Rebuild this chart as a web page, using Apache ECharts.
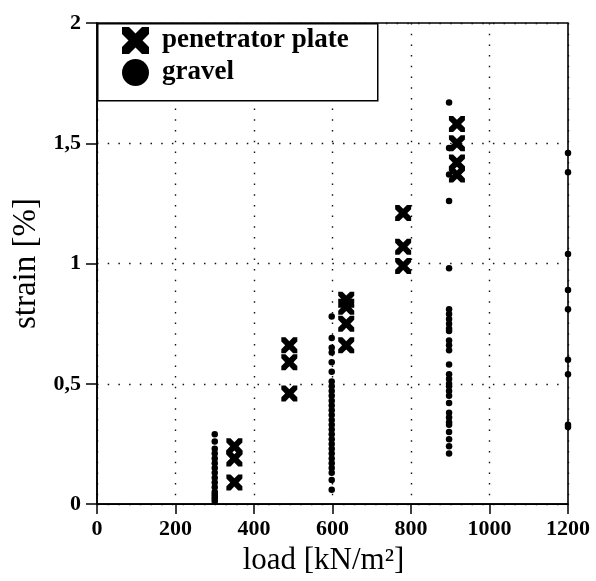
<!DOCTYPE html>
<html>
<head>
<meta charset="utf-8">
<script src="https://cdn.jsdelivr.net/npm/echarts@6/dist/echarts.min.js"></script>
<style>html,body{margin:0;padding:0;background:#fff}#c{width:596px;height:581px}</style>
</head>
<body>
<div id="c"></div>
<script>
// penetrator plate (crosses)
const plateLoad   = [350,350,350, 490,490,490, 635,635,635,635, 780,780,780, 917,917,917,917];
const plateStrain = [0.24,0.19,0.09, 0.66,0.59,0.46, 0.85,0.82,0.75,0.66, 1.21,1.07,0.99, 1.58,1.50,1.42,1.37];

// gravel (dots), grouped by load column
const gravelLoads = [300, 598, 897, 1200];
const gravel300  = [0.29,0.26,0.23,0.21,0.19,0.17,0.15,0.13,0.11,0.09,0.07,0.05,0.04,0.03,0.02,0.01];
const gravel600  = [0.78,0.69,0.65,0.63,0.59,0.55,0.51,0.49,0.47,0.45,0.43,0.41,0.39,0.37,0.35,0.33,0.31,0.29,0.27,0.25,0.23,0.21,0.19,0.17,0.15,0.13,0.10,0.06];
const gravel900  = [1.67,1.48,1.37,1.26,0.98,0.81,0.79,0.77,0.75,0.73,0.72,0.68,0.66,0.64,0.58,0.54,0.52,0.50,0.49,0.47,0.45,0.42,0.38,0.36,0.34,0.33,0.30,0.27,0.24,0.21];
const gravel1200 = [1.46,1.38,1.04,0.89,0.81,0.60,0.54,0.33,0.32];

const xTicks = [0,200,400,600,800,1000,1200];
const yTicks = [0,0.5,1,1.5,2];

const gravelCols = [gravel300, gravel600, gravel900, gravel1200];
const gravelData = [];
gravelCols.forEach((col, i) => col.forEach(v => gravelData.push([gravelLoads[i], v])));
const plateData = plateLoad.map((x, i) => [x, plateStrain[i]]);

const crossPath = 'path://M0,0 L2.6,0 L5,2.4 L7.4,0 L10,0 L10,2.6 L7.6,5 L10,7.4 L10,10 L7.4,10 L5,7.6 L2.6,10 L0,10 L0,7.4 L2.4,5 L0,2.6 Z';
const font = 'Liberation Serif';

const chart = echarts.init(document.getElementById('c'));
chart.setOption({
  animation: false,
  backgroundColor: '#fff',
  grid: {left: 97, right: 28, top: 23, bottom: 76, show: true, borderColor: '#000', borderWidth: 1.6},
  xAxis: {
    type: 'value', min: 0, max: 1200, interval: 200,
    name: 'load [kN/m²]', nameLocation: 'middle', nameGap: 40,
    nameTextStyle: {fontFamily: font, fontSize: 31, color: '#000', padding: [0, 18, 0, 0]},
    axisLine: {show: true, lineStyle: {color: '#000', width: 1.6}},
    axisTick: {show: true, length: 10, inside: false, lineStyle: {color: '#000', width: 1.5}},
    axisLabel: {fontFamily: font, fontSize: 22, fontWeight: 'bold', color: '#000', margin: 14,
      formatter: v => xTicks.includes(v) ? String(v) : ''},
    splitLine: {show: true, lineStyle: {color: '#111', width: 1.4, type: [1.5, 9.2]}}
  },
  yAxis: {
    type: 'value', min: 0, max: 2, interval: 0.5,
    name: 'strain [%]', nameLocation: 'middle', nameGap: 48, nameRotate: 90,
    nameTextStyle: {fontFamily: font, fontSize: 33, color: '#000'},
    axisLine: {show: true, lineStyle: {color: '#000', width: 1.6}},
    axisTick: {show: true, length: 11, inside: false, lineStyle: {color: '#000', width: 1.5}},
    axisLabel: {fontFamily: font, fontSize: 22, fontWeight: 'bold', color: '#000', margin: 16,
      formatter: v => yTicks.includes(v) ? String(v).replace('.', ',') : ''},
    splitLine: {show: true, lineStyle: {color: '#111', width: 1.4, type: [1.5, 9.2]}}
  },
  graphic: [{
    type: 'rect', z: 10, left: 97, top: 23,
    shape: {width: 280, height: 77},
    style: {fill: '#fff', stroke: '#000', lineWidth: 1.5}
  }],
  legend: {
    z: 20, orient: 'vertical', left: 122, top: 27, padding: 0,
    itemWidth: 27, itemHeight: 27, itemGap: 5,
    textStyle: {fontFamily: font, fontSize: 27, fontWeight: 'bold', color: '#000', padding: [0, 0, 0, 8]},
    data: [
      {name: 'penetrator plate', icon: crossPath},
      {name: 'gravel', icon: 'circle'}
    ]
  },
  series: [
    {name: 'gravel', type: 'scatter', data: gravelData, symbol: 'circle', symbolSize: 6.5,
      itemStyle: {color: '#000', opacity: 1}},
    {name: 'penetrator plate', type: 'scatter', data: plateData, symbol: crossPath, symbolSize: 16,
      itemStyle: {color: '#000', opacity: 1}}
  ]
});
</script>
</body>
</html>
